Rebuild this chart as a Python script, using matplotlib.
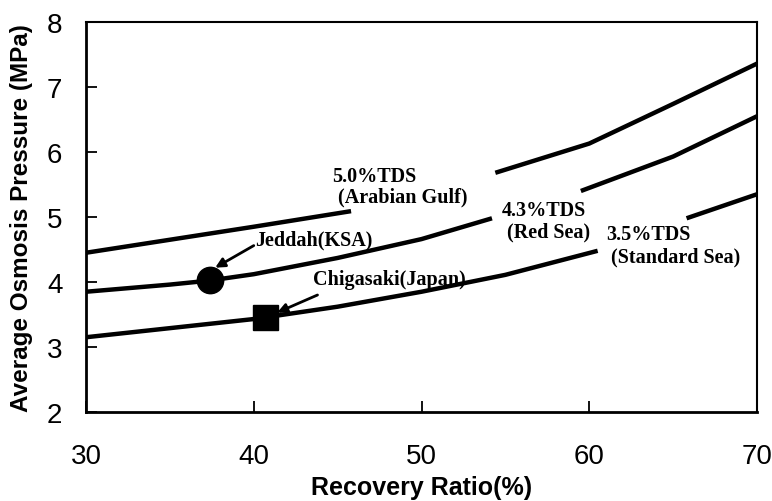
import numpy as np
import matplotlib
matplotlib.use("Agg")
import matplotlib.pyplot as plt

# Data (NaN = gap left for the label)
x_50 = [30, 35, 40, 45.8, np.nan, 54.4, 60, 65, 70]
y_50 = [4.45, 4.65, 4.85, 5.09, np.nan, 5.68, 6.13, 6.74, 7.36]

x_43 = [30, 35, 37.3, 40, 45, 50, 54.2, np.nan, 59.5, 65, 70]
y_43 = [3.85, 3.96, 4.02, 4.12, 4.37, 4.66, 4.98, np.nan, 5.40, 5.93, 6.55]

x_35 = [30, 35, 40, 45, 50, 55, 60.5, np.nan, 65.8, 70]
y_35 = [3.15, 3.29, 3.43, 3.62, 3.85, 4.11, 4.48, np.nan, 4.98, 5.35]

jeddah = (37.4, 4.03)
chigasaki = (40.7, 3.46)

x_ticks = [30, 40, 50, 60, 70]
y_ticks = [2, 3, 4, 5, 6, 7, 8]

fig = plt.figure(figsize=(7.72, 5.02), dpi=100)
ax = fig.add_axes([0.1114, 0.1773, 0.8692, 0.7769])

for xs, ys in [(x_50, y_50), (x_43, y_43), (x_35, y_35)]:
    ax.plot(xs, ys, color="black", lw=3.2, solid_capstyle="butt")

ax.plot(*jeddah, marker="o", color="black", markersize=19)
ax.plot(*chigasaki, marker="s", color="black", markersize=18)

ax.set_xlim(30, 70)
ax.set_ylim(2, 8)
ax.set_xticks(x_ticks)
ax.set_yticks(y_ticks)
ax.tick_params(direction="in", length=8, width=1.3, labelsize=20)
ax.tick_params(axis="x", pad=22)
ax.tick_params(axis="y", pad=17)
for lab in ax.get_xticklabels() + ax.get_yticklabels():
    lab.set_fontfamily("Liberation Sans")

ax.spines["left"].set_linewidth(2.0)
ax.spines["bottom"].set_linewidth(2.0)
ax.spines["top"].set_linewidth(1.5)
ax.spines["right"].set_linewidth(1.5)

ax.set_xlabel("Recovery Ratio(%)", fontsize=18, fontweight="bold",
              family="Liberation Sans", labelpad=5)
ax.set_ylabel("Average Osmosis Pressure (MPa)", fontsize=17.5, fontweight="bold",
              family="Liberation Sans", labelpad=10)

tkw = dict(fontsize=14.5, fontweight="bold", family="Liberation Serif",
           va="center", ha="left")
ax.text(44.7, 5.63, "5.0%TDS", **tkw)
ax.text(45.0, 5.31, "(Arabian Gulf)", **tkw)
ax.text(54.8, 5.11, "4.3%TDS", **tkw)
ax.text(55.1, 4.78, "(Red Sea)", **tkw)
ax.text(61.0, 4.74, "3.5%TDS", **tkw)
ax.text(61.3, 4.40, "(Standard Sea)", **tkw)
ax.text(40.1, 4.65, "Jeddah(KSA)", **tkw)
ax.text(43.55, 4.05, "Chigasaki(Japan)", **tkw)

ax.annotate("", xy=(37.7, 4.22), xytext=(40.0, 4.56),
            arrowprops=dict(arrowstyle="-|>", color="black", lw=2,
                            mutation_scale=14, shrinkA=0, shrinkB=0))
ax.annotate("", xy=(41.4, 3.53), xytext=(43.8, 3.80),
            arrowprops=dict(arrowstyle="-|>", color="black", lw=2,
                            mutation_scale=14, shrinkA=0, shrinkB=0))

fig.savefig("out.png", dpi=100)
